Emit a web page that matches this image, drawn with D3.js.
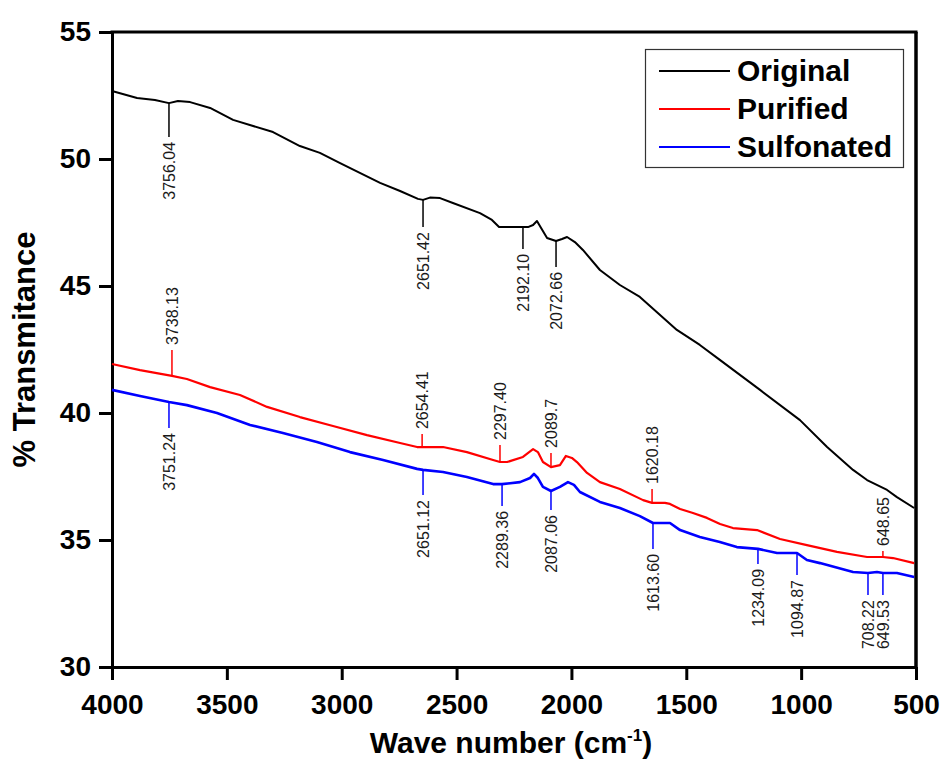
<!DOCTYPE html>
<html>
<head>
<meta charset="utf-8">
<script src="https://cdn.jsdelivr.net/npm/d3@7"></script>
<style>
  body { margin: 0; background: #fff; }
  text { font-family: "Liberation Sans", Arial, sans-serif; }
</style>
</head>
<body>
<svg id="chart"></svg>
<script>
var w = 941;
var h = 760;

// series: [wave number, % transmittance]
var original = [
    [4000, 52.68], [3891, 52.40], [3813, 52.32], [3752, 52.20], [3713, 52.28], [3660, 52.24],
    [3573, 52.01], [3473, 51.54], [3299, 51.06], [3182, 50.51], [3095, 50.24], [3007, 49.84],
    [2833, 49.06], [2746, 48.74], [2668, 48.43], [2646, 48.39], [2616, 48.48], [2572, 48.46],
    [2516, 48.27], [2398, 47.87], [2346, 47.60], [2315, 47.32], [2189, 47.32], [2167, 47.40],
    [2150, 47.56], [2132, 47.28], [2106, 46.89], [2067, 46.77], [2041, 46.85], [2019, 46.93],
    [1985, 46.73], [1950, 46.42], [1876, 45.63], [1789, 45.04], [1702, 44.57], [1541, 43.27],
    [1441, 42.68], [1354, 42.09], [1179, 40.91], [1005, 39.72], [887, 38.66], [774, 37.76],
    [713, 37.36], [626, 36.97], [583, 36.69], [508, 36.26]
];
var purified = [
    [4000, 41.93], [3878, 41.69], [3739, 41.46], [3674, 41.34], [3573, 41.02], [3443, 40.71],
    [3325, 40.24], [3182, 39.84], [3038, 39.49], [2890, 39.13], [2746, 38.82], [2672, 38.66],
    [2650, 38.66], [2559, 38.66], [2455, 38.46], [2341, 38.15], [2311, 38.07], [2280, 38.07],
    [2211, 38.27], [2167, 38.58], [2146, 38.46], [2124, 38.07], [2089, 37.87], [2050, 37.95],
    [2024, 38.31], [1998, 38.23], [1976, 38.07], [1932, 37.64], [1876, 37.28], [1789, 37.01],
    [1688, 36.57], [1649, 36.46], [1593, 36.46], [1571, 36.42], [1527, 36.22], [1471, 36.06],
    [1410, 35.87], [1353, 35.63], [1297, 35.47], [1192, 35.39], [1092, 35.04], [975, 34.80],
    [844, 34.53], [713, 34.33], [644, 34.33], [600, 34.29], [508, 34.09]
];
var sulfonated = [
    [4000, 40.91], [3878, 40.67], [3752, 40.43], [3674, 40.31], [3543, 40.00], [3399, 39.53],
    [3256, 39.21], [3108, 38.86], [2964, 38.46], [2820, 38.15], [2672, 37.80], [2646, 37.76],
    [2559, 37.68], [2455, 37.48], [2341, 37.20], [2302, 37.20], [2224, 37.28], [2180, 37.44],
    [2163, 37.60], [2146, 37.44], [2124, 37.09], [2089, 36.93], [2050, 37.09], [2015, 37.28],
    [1989, 37.17], [1963, 36.89], [1876, 36.50], [1789, 36.26], [1702, 35.94], [1645, 35.67],
    [1571, 35.67], [1527, 35.39], [1441, 35.12], [1354, 34.92], [1280, 34.72], [1188, 34.65],
    [1105, 34.49], [1035, 34.49], [1018, 34.49], [975, 34.21], [918, 34.09], [774, 33.74],
    [709, 33.70], [670, 33.74], [644, 33.70], [583, 33.70], [508, 33.54]
];

// peak marks: [wave number position, label, leader end (% T)]
var originalMarks = [
    [3752, "3756.04", 50.87], [2646, "2651.42", 47.32], [2211, "2192.10", 46.46], [2067, "2072.66", 45.75]
];
var purifiedMarks = [
    [3739, "3738.13", 42.48], [2650, "2654.41", 39.17], [2311, "2297.40", 38.74],
    [2089, "2089.7", 38.43], [1649, "1620.18", 37.01], [644, "648.65", 34.57]
];
var sulfonatedMarks = [
    [3752, "3751.24", 39.41], [2646, "2651.12", 36.77], [2302, "2289.36", 36.34], [2089, "2087.06", 36.18],
    [1645, "1613.60", 34.65], [1188, "1234.09", 34.06], [1018, "1094.87", 33.62],
    [709, "708.22", 32.83], [644, "649.53", 32.83]
];

var seriesNames = ["Original", "Purified", "Sulfonated"];
var seriesColors = ["#000000", "#ff0000", "#0000ff"];
var xTicks = [4000, 3500, 3000, 2500, 2000, 1500, 1000, 500];
var yTicks = [30, 35, 40, 45, 50, 55];

let svg = d3.select("#chart")
    .attr("width", w)
    .attr("height", h);

let xScale = d3.scaleLinear().domain([4000, 500]).range([112, 916]);
let yScale = d3.scaleLinear().domain([30, 55]).range([667, 32]);

// axes
let xAxis = d3.axisBottom(xScale)
    .tickValues(xTicks)
    .tickSize(13)
    .tickSizeOuter(0)
    .tickPadding(7)
    .tickFormat(d3.format("d"));
let yAxis = d3.axisLeft(yScale)
    .tickValues(yTicks)
    .tickSize(13)
    .tickSizeOuter(0)
    .tickPadding(8)
    .tickFormat(d3.format("d"));

let gx = svg.append("g")
    .attr("transform", `translate(0, ${yScale(30)})`)
    .call(xAxis);
let gy = svg.append("g")
    .attr("transform", `translate(${xScale(4000)}, 0)`)
    .call(yAxis);

[gx, gy].forEach(g => {
    g.select(".domain").attr("stroke", "#000").attr("stroke-width", 3);
    g.selectAll(".tick line").attr("stroke", "#000").attr("stroke-width", 3);
    g.selectAll(".tick text")
        .attr("fill", "#000")
        .style("font-family", "'Liberation Sans', Arial, sans-serif")
        .style("font-size", "28px")
        .style("font-weight", "bold");
});
gx.selectAll(".tick text").attr("dy", "0.95em");

// top and right frame
svg.append("line")
    .attr("x1", xScale(4000) - 1.5).attr("x2", xScale(500) + 1.5)
    .attr("y1", yScale(55)).attr("y2", yScale(55))
    .attr("stroke", "#000").attr("stroke-width", 3);
svg.append("line")
    .attr("x1", xScale(500)).attr("x2", xScale(500))
    .attr("y1", yScale(55)).attr("y2", yScale(30))
    .attr("stroke", "#000").attr("stroke-width", 3.5);

// axis titles
svg.append("text")
    .attr("transform", `translate(35, ${(yScale(30) + yScale(55)) / 2}) rotate(-90)`)
    .attr("text-anchor", "middle")
    .style("font-size", "31px")
    .style("font-weight", "bold")
    .text("% Transmitance");

let xt = svg.append("text")
    .attr("x", 511)
    .attr("y", 753)
    .attr("text-anchor", "middle")
    .style("font-size", "30px")
    .style("font-weight", "bold");
xt.append("tspan").text("Wave number (cm");
xt.append("tspan").attr("dy", -12).style("font-size", "17px").text("-1");
xt.append("tspan").attr("dy", 12).text(")");

// lines
let line = d3.line()
    .x(d => xScale(d[0]))
    .y(d => yScale(d[1]));

let allSeries = [original, purified, sulfonated];
let allMarks = [originalMarks, purifiedMarks, sulfonatedMarks];
let widths = [2, 2.2, 2.6];

allSeries.forEach((data, i) => {
    svg.append("path")
        .datum(data)
        .attr("fill", "none")
        .attr("stroke", seriesColors[i])
        .attr("stroke-width", widths[i])
        .attr("stroke-linejoin", "round")
        .attr("d", line);
});

// value on a curve at a wave number (linear between read points)
function valueAt(data, wn) {
    for (let k = 0; k < data.length - 1; k++) {
        let a = data[k], b = data[k + 1];
        if (wn <= a[0] && wn >= b[0]) {
            let t = (a[0] - wn) / (a[0] - b[0]);
            return a[1] + t * (b[1] - a[1]);
        }
    }
    return data[data.length - 1][1];
}

//peak leaders and labels
allMarks.forEach((marks, i) => {
    let up = i == 1;
    marks.forEach(m => {
        let px = xScale(m[0]);
        let y0 = yScale(valueAt(allSeries[i], m[0]));
        let y1 = yScale(m[2]);
        svg.append("line")
            .attr("x1", px).attr("x2", px)
            .attr("y1", y0).attr("y2", y1)
            .attr("stroke", seriesColors[i])
            .attr("stroke-width", 1.5);
        svg.append("text")
            .attr("transform", `translate(${px}, ${up ? y1 - 5 : y1 + 5}) rotate(-90)`)
            .attr("text-anchor", up ? "start" : "end")
            .attr("dy", "0.35em")
            .attr("fill", "#1a1a1a")
            .style("font-size", "16px")
            .text(m[1]);
    });
});

// legend
let legend = svg.append("g");
legend.append("rect")
    .attr("x", 645.5).attr("y", 49.5)
    .attr("width", 258).attr("height", 118)
    .attr("fill", "#fff")
    .attr("stroke", "#333")
    .attr("stroke-width", 1.2);
seriesNames.forEach((name, i) => {
    let ly = 71 + i * 38;
    legend.append("line")
        .attr("x1", 659).attr("x2", 730)
        .attr("y1", ly).attr("y2", ly)
        .attr("stroke", seriesColors[i])
        .attr("stroke-width", 2.2);
    legend.append("text")
        .attr("x", 737)
        .attr("y", ly + 10)
        .style("font-size", "30px")
        .style("font-weight", "bold")
        .text(name);
});
</script>
</body>
</html>
